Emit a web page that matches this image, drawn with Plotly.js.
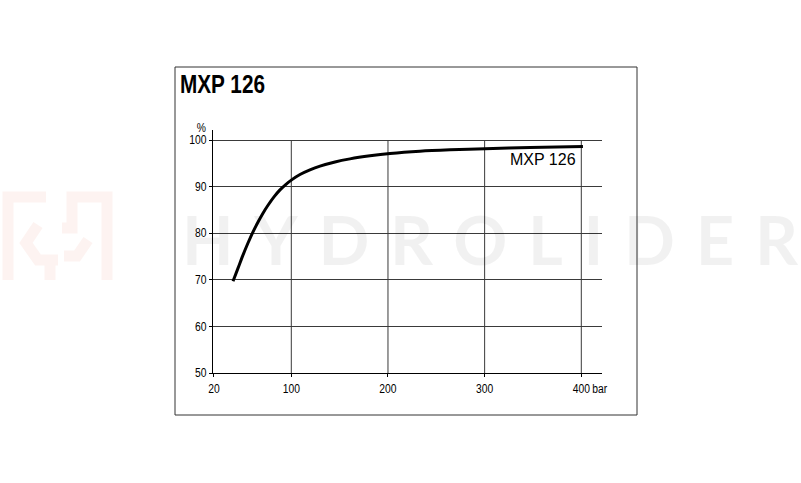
<!DOCTYPE html>
<html>
<head>
<meta charset="utf-8">
<script src="https://cdn.plot.ly/plotly-3.0.1.min.js"></script>
<style>
  html, body { margin:0; padding:0; background:#fff; }
  #wrap { position:relative; width:801px; height:483px; }
  #chart { position:absolute; left:0; top:0; width:801px; height:483px; }
  #wm { position:absolute; left:0; top:0; width:801px; height:483px; pointer-events:none; }
</style>
</head>
<body>
<div id="wrap">
  <div id="chart"></div>
  <svg id="wm" width="801" height="483" xmlns="http://www.w3.org/2000/svg">
    <g fill="none" stroke="rgba(230,100,80,0.08)" stroke-width="11" stroke-linejoin="miter">
      <path d="M46,197 L8,197 L8,280"/>
      <path d="M38,225 L26,243 L38,260 L58,260 M50,260 L50,280"/>
      <path d="M62,228 L72,228 L72,197 L107,197 L107,280"/>
      <path d="M88,240 L77,256 L64,256"/>
    </g>
    <text x="182" y="265" font-family="Lato, 'Open Sans', sans-serif" font-size="67" font-weight="700"
          fill="rgba(0,0,0,0.055)" textLength="616" lengthAdjust="spacing">HYDROLIDER</text>
  </svg>
</div>
<script>
// ---- data ----
const pressureBar = [39.7, 44.9, 50.0, 55.2, 60.4, 65.6, 70.7, 75.9, 82.1, 88.3, 94.5, 100.7,
                     109.0, 119.3, 129.7, 145.2, 160.7, 181.4, 202.1, 233.1, 264.2, 300.4, 347.0, 401.7];
const efficiencyPct = [69.7, 72.5, 75.3, 77.9, 80.3, 82.4, 84.3, 86.0, 87.8, 89.3, 90.5, 91.5,
                       92.6, 93.6, 94.4, 95.3, 95.95, 96.6, 97.1, 97.6, 97.9, 98.15, 98.38, 98.6];
const xTickVals = [20, 100, 200, 300, 400];
const xTickText = ['20', '100', '200', '300', '400'];
const yTickVals = [50, 60, 70, 80, 90, 100];
const verticalGrid = [100, 200, 300, 400];
const seriesName = 'MXP 126';
const chartTitle = 'MXP 126';

const sans = '"Liberation Sans", Arial, Helvetica, sans-serif';
const gridColor = '#3a3a3a';

const shapes = verticalGrid.map(v => ({
  type:'line', xref:'x', yref:'y', x0:v, x1:v, y0:50, y1:100,
  line:{color:gridColor, width:1}, layer:'below'
}));
// outer frame
shapes.push({type:'rect', xref:'paper', yref:'paper',
  x0:(175-213)/389, x1:(637-213)/389, y0:(373-415)/243, y1:(373-67)/243,
  line:{color:'#333', width:1}, fillcolor:'rgba(0,0,0,0)', layer:'below'});

const trace = {
  x: pressureBar, y: efficiencyPct, type:'scatter', mode:'lines',
  line:{color:'#000', width:3, shape:'spline', smoothing:0.8},
  name: seriesName, hoverinfo:'skip'
};

const layout = {
  width:801, height:483,
  margin:{l:213, r:199, t:130, b:110, pad:0},
  paper_bgcolor:'rgba(0,0,0,0)', plot_bgcolor:'rgba(0,0,0,0)',
  showlegend:false,
  title:{text:chartTitle, x:180/801, xanchor:'left', xref:'container', y:1-84/483, yanchor:'middle', yref:'container',
         font:{family:sans, size:25, color:'#000', weight:700}},
  xaxis:{range:[19, 421.4], tickvals:xTickVals, ticktext:xTickText, showgrid:false, zeroline:false,
         showline:true, linecolor:'#000', linewidth:1, ticks:'outside', ticklen:3, tickcolor:'#000',
         ticklabelstandoff:2,
         tickfont:{family:sans, size:12, color:'#000'}, fixedrange:true},
  yaxis:{range:[50, 102.15], tickvals:yTickVals, showgrid:true, gridcolor:gridColor, gridwidth:1, zeroline:false,
         showline:true, linecolor:'#000', linewidth:1, ticks:'outside', ticklen:3, tickcolor:'#000',
         tickfont:{family:sans, size:12, color:'#000'}, fixedrange:true},
  shapes: shapes,
  annotations:[
    {x:396.6, y:95.9, xref:'x', yref:'y', text:seriesName, showarrow:false, xanchor:'right', yanchor:'middle',
     font:{family:sans, size:16, color:'#000'}},
    {x:400, y:(373-389)/243, xref:'x', yref:'paper', text:'bar', showarrow:false, xanchor:'left', yanchor:'middle', xshift:8,
     font:{family:sans, size:12, color:'#000'}},
    {x:(201-213)/389, y:(373-128)/243, xref:'paper', yref:'paper', text:'%', showarrow:false, xanchor:'center', yanchor:'middle',
     font:{family:sans, size:12, color:'#000'}}
  ]
};

Plotly.newPlot('chart', [trace], layout, {staticPlot:true, displayModeBar:false}).then(gd => {
  // the original uses a condensed typeface: compress glyphs horizontally
  const condense = (el, f) => {
    const w = el.getComputedTextLength();
    if (w > 0) { el.setAttribute('textLength', (w * f).toFixed(2)); el.setAttribute('lengthAdjust', 'spacingAndGlyphs'); }
  };
  gd.querySelectorAll('.gtitle').forEach(el => condense(el, 0.83));
  gd.querySelectorAll('.xtick text, .ytick text').forEach(el => condense(el, 0.86));
  gd.querySelectorAll('.annotation-text').forEach(el => {
    if (el.textContent === 'bar' || el.textContent === '%') condense(el, 0.86);
  });
});
</script>
</body>
</html>
